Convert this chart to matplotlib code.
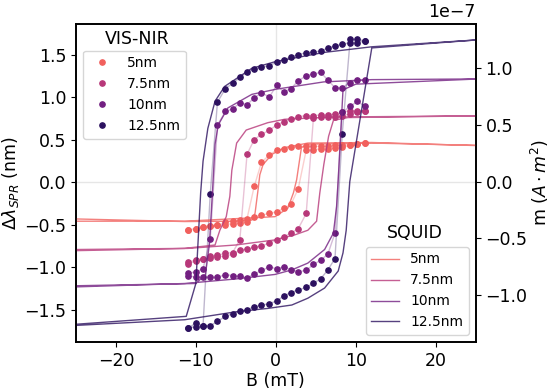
import numpy as np
import matplotlib
matplotlib.use('Agg')
import matplotlib.pyplot as plt

# VIS-NIR: field sweep from +11 mT down to -11 mT, then back up
B_down = [11.1, 10.2, 9.3, 8.3, 7.4, 6.5, 5.6, 4.7, 3.8, 2.8, 1.9, 1.0, 0.1,
          -0.8, -1.8, -2.7, -3.6, -4.5, -5.4, -6.3, -7.3, -8.2, -9.1, -10.0, -11.0]
B_up = B_down[::-1]

labels = ['5nm', '7.5nm', '10nm', '12.5nm']

# delta lambda (nm), descending branch
vis_down = {
    '5nm': [0.46, 0.45, 0.44, 0.43, 0.43, 0.42, 0.42, 0.42, 0.42, 0.42, 0.41, 0.39, 0.375,
            0.32, 0.23, -0.05, -0.43, -0.45, -0.46, -0.47, -0.51, -0.515, -0.53, -0.55, -0.566],
    '7.5nm': [0.84, 0.84, 0.84, 0.82, 0.80, 0.79, 0.79, 0.78, 0.78, 0.77, 0.74, 0.71, 0.67,
              0.61, 0.56, 0.50, 0.325, -0.68, -0.83, -0.84, -0.86, -0.87, -0.90, -0.92, -0.94],
    '10nm': [1.20, 1.20, 1.17, 1.11, 1.11, 1.20, 1.29, 1.27, 1.25, 1.19, 1.10, 1.06, 1.14,
             1.00, 1.05, 0.99, 0.91, 0.93, 0.86, 0.83, 0.67, -0.675, -1.02, -1.06, -1.07],
    '12.5nm': [1.66, 1.64, 1.64, 1.62, 1.60, 1.575, 1.54, 1.53, 1.52, 1.50, 1.47, 1.44, 1.41,
               1.37, 1.35, 1.33, 1.29, 1.23, 1.16, 1.10, 0.94, -0.14, -1.69, -1.70, -1.72],
}
# ascending branch
vis_up = {
    '5nm': [-0.57, -0.55, -0.53, -0.52, -0.51, -0.50, -0.49, -0.48, -0.47, -0.41, -0.39, -0.37, -0.35,
            -0.31, -0.26, -0.08, 0.375, 0.38, 0.39, 0.39, 0.40, 0.41, 0.43, 0.45, 0.46],
    '7.5nm': [-0.96, -0.93, -0.91, -0.89, -0.88, -0.87, -0.85, -0.80, -0.79, -0.77, -0.75, -0.72, -0.68,
              -0.645, -0.60, -0.55, -0.37, 0.75, 0.76, 0.76, 0.77, 0.78, 0.80, 0.82, 0.83],
    '10nm': [-1.10, -1.12, -1.12, -1.12, -1.12, -1.09, -1.10, -1.11, -1.125, -1.085, -1.04, -1.00, -1.02,
             -1.00, -1.03, -1.055, -1.04, -0.97, -0.92, -0.85, -0.60, 0.82, 0.89, 0.95, 0.89],
    '12.5nm': [-1.72, -1.66, -1.69, -1.69, -1.64, -1.58, -1.55, -1.52, -1.50, -1.47, -1.45, -1.43, -1.40,
               -1.34, -1.30, -1.27, -1.24, -1.19, -1.14, -1.035, -0.90, 0.56, 1.68, 1.68, 1.66],
}

# SQUID: moment in units of 1e-7 A m^2
sq_B_down = {
    '5nm': [25, 12, 4, 1.1, -0.5, -1.6, -2.0, -2.2, -2.6, -3.0, -5, -11.4, -25],
    '7.5nm': [25, 7, 1.1, -1, -3.7, -4.9, -5.5, -5.75, -6.2, -7.0, -7.6, -11.4, -25],
    '10nm': [25, 12, 6, 0, -3, -6, -7.2, -7.6, -7.9, -8.3, -8.8, -10, -25],
    '12.5nm': [25, 12, 6, 0, -3, -6.4, -7.6, -8.5, -9.1, -9.4, -10.0, -11.2, -25],
}
sq_m_down = {
    '5nm': [0.318, 0.345, 0.34, 0.30, 0.24, 0.15, 0.06, -0.06, -0.28, -0.34, -0.35, -0.353, -0.33],
    '7.5nm': [0.58, 0.57, 0.55, 0.52, 0.455, 0.34, 0.10, -0.13, -0.31, -0.43, -0.56, -0.59, -0.60],
    '10nm': [0.906, 0.90, 0.88, 0.815, 0.77, 0.65, 0.50, 0.33, -0.06, -0.55, -0.82, -0.90, -0.92],
    '12.5nm': [1.25, 1.19, 1.14, 1.06, 1.00, 0.84, 0.71, 0.47, 0.18, -0.10, -0.90, -1.19, -1.26],
}
sq_B_up = {
    '5nm': [-25, -11.4, -0.1, 1.5, 2.2, 2.6, 3.2, 4, 12, 25],
    '7.5nm': [-25, -11, -5, -0.1, 2.4, 4, 5.1, 5.5, 6.0, 6.6, 7.2, 9, 25],
    '10nm': [-25, -11.4, -5, -0.1, 2, 4, 6.1, 7.2, 7.6, 7.8, 8.4, 10, 25],
    '12.5nm': [-25, -11.4, -5, -1, 2, 4, 6.1, 7.8, 8.4, 8.8, 9.25, 12, 25],
}
sq_m_up = {
    '5nm': [-0.35, -0.35, -0.31, -0.235, -0.10, 0.015, 0.30, 0.33, 0.34, 0.32],
    '7.5nm': [-0.61, -0.59, -0.56, -0.515, -0.47, -0.43, -0.35, -0.10, 0.15, 0.40, 0.54, 0.565, 0.58],
    '10nm': [-0.93, -0.90, -0.86, -0.82, -0.78, -0.72, -0.60, -0.455, -0.22, 0.015, 0.81, 0.86, 0.905],
    '12.5nm': [-1.27, -1.22, -1.15, -1.12, -1.09, -1.03, -0.94, -0.79, -0.63, -0.43, 0.0, 1.18, 1.25],
}

cmap = plt.get_cmap('magma')
colors = [cmap(4 / 6), cmap(3 / 6), cmap(2 / 6), cmap(1 / 6)]

fig = plt.figure(figsize=(5.5, 3.92), dpi=100)
ax1 = fig.add_axes([0.138, 0.128, 0.727, 0.811])
ax2 = ax1.twinx()

ax1.axvline(0, color='#e6e6e6', lw=1, zorder=0)
ax1.axhline(0, color='#e6e6e6', lw=1, zorder=0)

vis_handles = []
sq_handles = []
for lab, c in zip(labels, colors):
    x = B_down + B_up
    y = vis_down[lab] + vis_up[lab]
    ax1.plot(x, y, '-', color=c, lw=1, alpha=0.3)
    h, = ax1.plot(x, y, 'o', color=c, ms=3.8, ls='none', label=lab)
    vis_handles.append(h)

    xs = sq_B_down[lab] + sq_B_up[lab]
    ms = np.array(sq_m_down[lab] + sq_m_up[lab]) * 1e-7
    h2, = ax2.plot(xs, ms, '-', color=c, lw=1, alpha=0.8, label=lab)
    sq_handles.append(h2)

ax1.set_xlim(-25, 25)
ax1.set_ylim(-1.88, 1.86)
ax2.set_ylim(-1.415e-7, 1.392e-7)
ax1.set_yticks([-1.5, -1.0, -0.5, 0.0, 0.5, 1.0, 1.5])
ax2.set_yticks([-1.0e-7, -0.5e-7, 0.0, 0.5e-7, 1.0e-7])

fs = 12.5
ax1.set_xlabel('B (mT)', fontsize=fs, labelpad=2)
ax1.set_ylabel(r'$\Delta\lambda_{SPR}$ (nm)', fontsize=fs, labelpad=2)
ax2.set_ylabel(r'm $(A \cdot m^2)$', fontsize=fs, labelpad=1)
ax1.tick_params(labelsize=fs)
ax2.tick_params(labelsize=fs)
# scale factor drawn by hand so it sits flush with the right spine
ax2.yaxis.get_offset_text().set_visible(False)
ax2.text(1.0, 1.008, '1e\u22127', transform=ax2.transAxes, ha='right', va='bottom', fontsize=fs)
for ax in (ax1, ax2):
    for s in ax.spines.values():
        s.set_linewidth(1.2)

leg1 = ax2.legend(handles=vis_handles, loc='upper left', bbox_to_anchor=(0.0, 0.938),
                  fontsize=10)
ax2.add_artist(leg1)
ax2.legend(handles=sq_handles, loc='lower right', fontsize=10)
ax2.text(0.154, 0.954, 'VIS-NIR', transform=ax2.transAxes, ha='center', va='center', fontsize=fs)
ax2.text(0.847, 0.343, 'SQUID', transform=ax2.transAxes, ha='center', va='center', fontsize=fs)

fig.savefig('out.png', dpi=100)
